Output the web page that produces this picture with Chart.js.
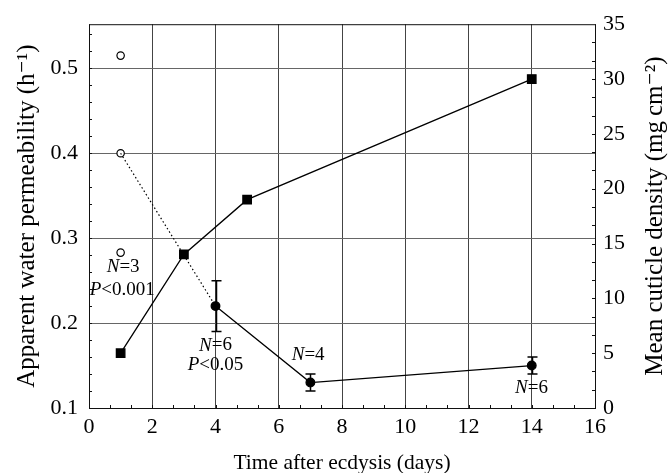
<!DOCTYPE html>
<html>
<head>
<meta charset="utf-8">
<script src="https://cdn.jsdelivr.net/npm/chart.js@4.4.0/dist/chart.umd.min.js"></script>
<style>
  body { margin: 0; background: #fff; }
  #wrap { width: 669px; height: 473px; }
</style>
</head>
<body>
<div id="wrap"><canvas id="chart" width="669" height="473"></canvas></div>
<script>
// data
const densityDays = [1, 3, 5, 14];
const densityValues = [5, 14, 19, 30];

const permDays = [4, 7, 14];
const permMeans = [0.22, 0.13, 0.15];
const permHigh = [0.25, 0.14, 0.16];
const permLow = [0.19, 0.12, 0.14];

const day1Days = [1, 1, 1];
const day1Values = [0.515, 0.40, 0.283];

const xTicks = [0, 2, 4, 6, 8, 10, 12, 14, 16];
const leftTicks = [0.1, 0.2, 0.3, 0.4, 0.5];
const rightTicks = [0, 5, 10, 15, 20, 25, 30, 35];

const serif = "'Liberation Serif', 'DejaVu Serif', serif";
const rightTitle = 'Mean cuticle density (mg\u2009cm\u207B\u00B2)';

function pts(xs, ys) {
    return xs.map((x, i) => ({x: x, y: ys[i]}));
}

// frame, minor ticks, right title (reads bottom to top like the left one)
const framePlugin = {
    id: 'frame',
    afterDraw(chart) {
        const ctx = chart.ctx;
        const a = chart.chartArea;
        const sx = chart.scales.x, sy = chart.scales.y, sy2 = chart.scales.y2;
        ctx.save();
        ctx.strokeStyle = '#111';
        ctx.lineWidth = 1;
        ctx.beginPath();
        // left axis minor ticks every 0.02
        for (let v = 0.12; v < 0.55; v += 0.02) {
            const y = Math.round(sy.getPixelForValue(v)) + 0.5;
            ctx.moveTo(a.left, y); ctx.lineTo(a.left + 3, y);
        }
        // bottom minor ticks every 2/3 day
        for (let k = 1; k < 24; k++) {
            const x = Math.round(sx.getPixelForValue(k * 2 / 3)) + 0.5;
            ctx.moveTo(x, a.bottom); ctx.lineTo(x, a.bottom - 3);
        }
        // right minor ticks every 5/3
        for (let k = 1; k < 21; k++) {
            const y = Math.round(sy2.getPixelForValue(k * 5 / 3)) + 0.5;
            ctx.moveTo(a.right, y); ctx.lineTo(a.right - 3, y);
        }
        ctx.stroke();
        ctx.strokeRect(a.left + 0.5, a.top + 0.5, a.right - a.left, a.bottom - a.top);

        ctx.translate(655, (a.top + a.bottom) / 2);
        ctx.rotate(-Math.PI / 2);
        ctx.fillStyle = '#000';
        ctx.font = '25px ' + serif;
        ctx.textAlign = 'center';
        ctx.textBaseline = 'middle';
        ctx.fillText(rightTitle, 0, 0);
        ctx.restore();
    }
};

const errorBarPlugin = {
    id: 'errbars',
    afterDatasetsDraw(chart) {
        const ctx = chart.ctx;
        const sx = chart.scales.x, sy = chart.scales.y;
        ctx.save();
        ctx.strokeStyle = '#000';
        ctx.lineWidth = 1.5;
        ctx.beginPath();
        permDays.forEach((d, i) => {
            const x = Math.round(sx.getPixelForValue(d)) + 0.5;
            const yh = sy.getPixelForValue(permHigh[i]);
            const yl = sy.getPixelForValue(permLow[i]);
            ctx.moveTo(x, yh); ctx.lineTo(x, yl);
            ctx.moveTo(x - 5, yh); ctx.lineTo(x + 5, yh);
            ctx.moveTo(x - 5, yl); ctx.lineTo(x + 5, yl);
        });
        ctx.stroke();
        ctx.restore();
    }
};

// N / P labels, italic letter + roman rest
const notes = [
    {day: 1.08, val: 0.2655, parts: ['N', '=3']},
    {day: 1.05, val: 0.239, parts: ['P', '<0.001']},
    {day: 4.0, val: 0.1736, parts: ['N', '=6']},
    {day: 4.0, val: 0.1506, parts: ['P', '<0.05']},
    {day: 6.93, val: 0.162, parts: ['N', '=4']},
    {day: 13.99, val: 0.123, parts: ['N', '=6']}
];

const notePlugin = {
    id: 'notes',
    afterDraw(chart) {
        const ctx = chart.ctx;
        const sx = chart.scales.x, sy = chart.scales.y;
        ctx.save();
        ctx.fillStyle = '#000';
        ctx.textBaseline = 'middle';
        ctx.textAlign = 'left';
        notes.forEach(n => {
            const it = 'italic 19px ' + serif;
            const rm = '19px ' + serif;
            ctx.font = it;
            const w1 = ctx.measureText(n.parts[0]).width;
            ctx.font = rm;
            const w2 = ctx.measureText(n.parts[1]).width;
            let x = sx.getPixelForValue(n.day) - (w1 + w2) / 2;
            const y = sy.getPixelForValue(n.val);
            ctx.font = it;
            ctx.fillText(n.parts[0], x, y);
            ctx.font = rm;
            ctx.fillText(n.parts[1], x + w1, y);
        });
        ctx.restore();
    }
};

const ctx = document.getElementById('chart').getContext('2d');
const chart = new Chart(ctx, {
    type: 'scatter',
    data: {
        datasets: [{
            label: 'cuticle density',
            data: pts(densityDays, densityValues),
            yAxisID: 'y2',
            showLine: true,
            borderColor: '#000',
            borderWidth: 1.3,
            pointStyle: 'rect',
            pointRadius: 6,
            backgroundColor: '#000',
            pointBorderColor: '#000'
        }, {
            label: 'permeability',
            data: pts(permDays, permMeans),
            yAxisID: 'y',
            showLine: true,
            borderColor: '#000',
            borderWidth: 1.3,
            pointStyle: 'circle',
            pointRadius: 4.3,
            backgroundColor: '#000'
        }, {
            label: 'day 1 link',
            data: [{x: day1Days[1], y: day1Values[1]}, {x: permDays[0], y: permMeans[0]}],
            yAxisID: 'y',
            showLine: true,
            borderColor: '#000',
            borderWidth: 1.2,
            borderDash: [1.5, 2.5],
            pointRadius: 0
        }, {
            label: 'day 1',
            data: pts(day1Days, day1Values),
            yAxisID: 'y',
            showLine: false,
            pointStyle: 'circle',
            pointRadius: 3.7,
            borderWidth: 1.2,
            pointBorderColor: '#000',
            backgroundColor: '#fff'
        }]
    },
    options: {
        responsive: false,
        animation: false,
        layout: { padding: { top: 15, left: 0, right: 0, bottom: 0 } },
        plugins: { legend: { display: false }, tooltip: { enabled: false } },
        scales: {
            x: {
                type: 'linear',
                min: 0, max: 16,
                afterBuildTicks: s => { s.ticks = xTicks.map(v => ({value: v})); },
                afterFit: s => { s.height = 65; },
                ticks: { color: '#000', padding: 6, font: { family: serif, size: 22 } },
                grid: { color: '#444', lineWidth: 1, drawTicks: false },
                border: { display: false },
                title: {
                    display: true, text: 'Time after ecdysis (days)', color: '#000',
                    font: { family: serif, size: 21.5, lineHeight: 1 }, padding: { top: 0, bottom: -1 }
                }
            },
            y: {
                type: 'linear', position: 'left',
                min: 0.1, max: 0.552,
                afterBuildTicks: s => { s.ticks = leftTicks.map(v => ({value: v})); },
                afterFit: s => { s.width = 89; },
                ticks: { color: '#000', padding: 11, font: { family: serif, size: 22 },
                    callback: v => v.toFixed(1) },
                grid: { color: '#666', lineWidth: 1, drawTicks: false },
                border: { display: false },
                title: {
                    display: true, text: 'Apparent water permeability (h\u207B\u00B9)', color: '#000',
                    font: { family: serif, size: 25 }, padding: { top: 12, bottom: 0 }
                }
            },
            y2: {
                type: 'linear', position: 'right',
                min: 0, max: 35,
                afterBuildTicks: s => { s.ticks = rightTicks.map(v => ({value: v})); },
                afterFit: s => { s.width = 74; },
                ticks: { color: '#000', padding: 8, font: { family: serif, size: 22 } },
                grid: { display: false, drawTicks: false },
                border: { display: false }
            }
        }
    },
    plugins: [framePlugin, errorBarPlugin, notePlugin]
});
</script>
</body>
</html>
